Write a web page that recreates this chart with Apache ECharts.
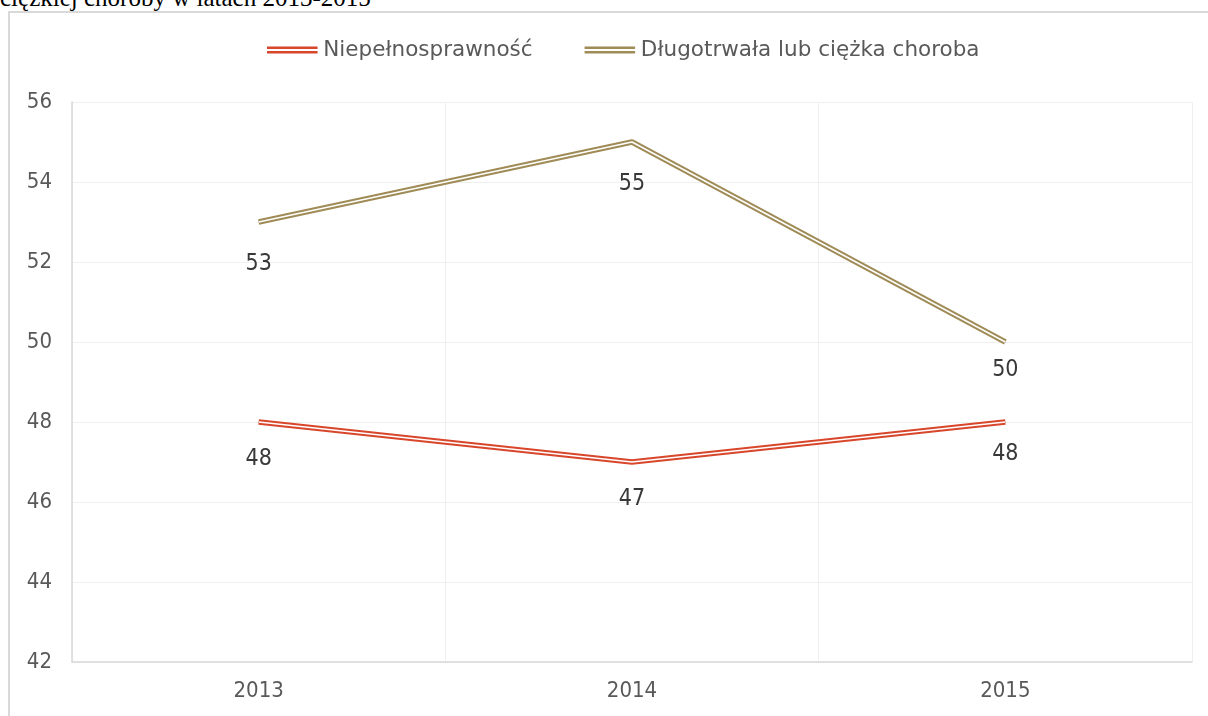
<!DOCTYPE html>
<html>
<head>
<meta charset="utf-8">
<script src="https://cdn.jsdelivr.net/npm/echarts@6/dist/echarts.min.js"></script>
<style>
  html, body { margin: 0; padding: 0; background: #fff; overflow: hidden; }
  #title {
    position: absolute; left: 0; top: -15px; line-height: 25px;
    font-family: "Liberation Serif", serif; font-size: 25px; color: #000;
    white-space: nowrap;
  }
  #frame {
    position: absolute; left: 8px; top: 11px; width: 1220px; height: 730px;
    border: 2px solid #d9d9d9; box-sizing: border-box;
  }
  #main { position: absolute; left: 0; top: 0; width: 1208px; height: 716px; }
</style>
</head>
<body>
<div id="title">ciężkiej choroby w latach 2013-2015</div>
<div id="frame"></div>
<div id="main"></div>
<script>
// dane
var years = ['2013', '2014', '2015']
var niepelnosprawnosc = [48, 47, 48]
var choroba = [53, 55, 50]
var seriesNames = ['Niepełnosprawność', 'Długotrwała lub ciężka choroba']
var colors = ['#d8462c', '#9f8b56']
// odstep etykiet pod punktami
var labelDist = [[25, 25, 20], [30, 30, 16]]

var font = '"DejaVu Sans Condensed", "DejaVu Sans", sans-serif'
var legendIcon = 'path://M0,0H52V2.6H0Z M0,4.6H52V7.2H0Z'

function doubleLine(name, data, color, dist) {
  // linia podwojna: gruba kolorowa + cienka biala w srodku
  return [{
    name: name,
    type: 'line',
    data: data.map(function (v, i) {
      return { value: v, label: { distance: dist[i] } }
    }),
    symbol: 'circle',
    symbolSize: 1,
    showSymbol: true,
    lineStyle: { color: color, width: 5.5 },
    itemStyle: { color: color },
    label: {
      show: true,
      position: 'bottom',
      color: '#383838',
      fontSize: 23,
      fontFamily: font
    },
    z: 2
  }, {
    name: name + '_w',
    type: 'line',
    data: data,
    symbol: 'none',
    silent: true,
    lineStyle: { color: '#fff', width: 1.6 },
    z: 3
  }]
}

var chart = echarts.init(document.getElementById('main'))
var option = {
  animation: false,
  legend: {
    data: seriesNames.map(function (n, i) {
      return { name: n, icon: legendIcon, itemStyle: { color: colors[i] } }
    }),
    top: 34,
    left: 262,
    itemWidth: 52,
    itemHeight: 7,
    itemGap: 52,
    textStyle: { color: '#595959', fontSize: 21.5, fontFamily: '"DejaVu Sans", sans-serif' }
  },
  grid: { left: 72, top: 102, width: 1120, height: 560 },
  xAxis: {
    type: 'category',
    data: years,
    boundaryGap: true,
    axisLine: { lineStyle: { color: '#d9d9d9', width: 1.5 } },
    axisTick: { show: false },
    axisLabel: { color: '#595959', fontSize: 22, fontFamily: font, margin: 18 },
    splitLine: { show: true, lineStyle: { color: '#efefef' } }
  },
  yAxis: {
    type: 'value',
    min: 42,
    max: 56,
    interval: 2,
    axisLine: { show: true, lineStyle: { color: '#d9d9d9', width: 1.5 } },
    axisTick: { show: false },
    axisLabel: { color: '#595959', fontSize: 22, fontFamily: font, margin: 20 },
    splitLine: { lineStyle: { color: '#efefef' } }
  },
  series: doubleLine(seriesNames[0], niepelnosprawnosc, colors[0], labelDist[0])
    .concat(doubleLine(seriesNames[1], choroba, colors[1], labelDist[1]))
}
chart.setOption(option)
</script>
</body>
</html>
